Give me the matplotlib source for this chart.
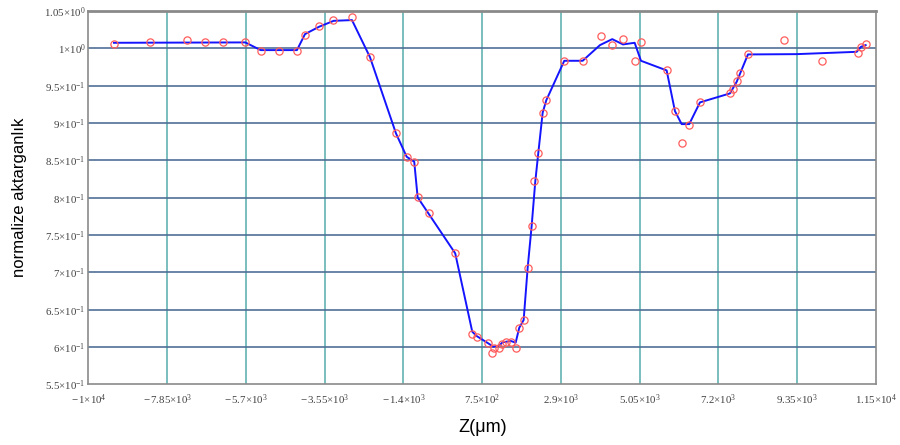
import numpy as np
import matplotlib
matplotlib.use('Agg')
import matplotlib.pyplot as plt

# Datos medidos (círculos)
z_med = [-9304, -8313, -7319, -6819, -6320, -5719, -5299, -4799, -4308, -4089,
         -3707, -3311, -2806, -2323, -1605, -1313, -1106, -1013, -704, 13,
         478, 598, 898, 1024, 1079, 1207, 1281, 1398, 1535, 1663,
         1761, 1881, 1991, 2100, 2171, 2280, 2417, 2498, 2990, 3492,
         3984, 4300, 4593, 4912, 5084, 5785, 6012, 6195, 6402, 6695,
         7514, 7587, 7697, 7795, 8005, 8996, 10017, 11016, 11090, 11218]
t_med = [1.0054, 1.0081, 1.0112, 1.0081, 1.0081, 1.0081, 0.9965, 0.9965, 0.9965, 1.0183,
         1.0295, 1.0380, 1.0416, 0.9884, 0.8863, 0.8550, 0.8483, 0.8006, 0.7792, 0.7256,
         0.6176, 0.6132, 0.6056, 0.5918, 0.5989, 0.5989, 0.6042, 0.6069, 0.6069, 0.5985,
         0.6260, 0.6363, 0.7064, 0.7626, 0.8220, 0.8595, 0.9139, 0.9305, 0.9835, 0.9835,
         1.0165, 1.0045, 1.0129, 0.9835, 1.0081, 0.9706, 0.9161, 0.8729, 0.8970, 0.9278,
         0.9406, 0.9452, 0.9567, 0.9670, 0.9920, 1.0108, 0.9831, 0.9942, 1.0022, 1.0054]

# Curva suavizada (línea azul)
z_fit = [-9304, -5719, -5299, -4308, -4089, -3707, -3306, -2806, -2315, -1605,
         -1313, -1106, -1013, 13, 478, 598, 898, 1051, 1207, 1308,
         1535, 1663, 1761, 1881, 1991, 2100, 2198, 2280, 2400, 2498,
         2990, 3492, 3965, 4300, 4593, 4912, 5084, 5785, 6012, 6195,
         6402, 6695, 7514, 7697, 8005, 9335, 10973, 11090, 11218]
t_fit = [1.0076, 1.0081, 0.9978, 0.9978, 1.0192, 1.0290, 1.0370, 1.0380, 0.9884, 0.8863,
         0.8550, 0.8483, 0.8006, 0.7256, 0.6207, 0.6149, 0.6056, 0.6006, 0.6020, 0.6065,
         0.6082, 0.6060, 0.6260, 0.6363, 0.7064, 0.7626, 0.8215, 0.8595, 0.9139, 0.9305,
         0.9835, 0.9835, 1.0045, 1.0125, 1.0054, 1.0076, 0.9835, 0.9706, 0.9161, 0.8987,
         0.8987, 0.9278, 0.9398, 0.9553, 0.9920, 0.9924, 0.9955, 1.0022, 1.0045]

xticks = [-10000, -7850, -5700, -3550, -1400, 750, 2900, 5050, 7200, 9350, 11500]
xlabels = [r'$-\,1{\times}10^{4}$', r'$-\,7.85{\times}10^{3}$', r'$-\,5.7{\times}10^{3}$',
           r'$-\,3.55{\times}10^{3}$', r'$-\,1.4{\times}10^{3}$', r'$7.5{\times}10^{2}$',
           r'$2.9{\times}10^{3}$', r'$5.05{\times}10^{3}$', r'$7.2{\times}10^{3}$',
           r'$9.35{\times}10^{3}$', r'$1.15{\times}10^{4}$']
yticks = [0.55, 0.60, 0.65, 0.70, 0.75, 0.80, 0.85, 0.90, 0.95, 1.00, 1.05]
ylabels = [r'$5.5{\times}10^{-1}$', r'$6{\times}10^{-1}$', r'$6.5{\times}10^{-1}$',
           r'$7{\times}10^{-1}$', r'$7.5{\times}10^{-1}$', r'$8{\times}10^{-1}$',
           r'$8.5{\times}10^{-1}$', r'$9{\times}10^{-1}$', r'$9.5{\times}10^{-1}$',
           r'$1{\times}10^{0}$', r'$1.05{\times}10^{0}$']

plt.rcParams['mathtext.fontset'] = 'custom'
plt.rcParams['mathtext.rm'] = 'Liberation Serif'
plt.rcParams['mathtext.it'] = 'Liberation Serif:italic'
plt.rcParams['mathtext.default'] = 'rm'

fig = plt.figure(figsize=(9, 4.45), dpi=100)
ax = fig.add_axes([0.0983, 0.136, 0.875, 0.839])

# rejilla
for xv in xticks[1:-1]:
    ax.axvline(xv, color='#6fb8b8', linewidth=1.3, zorder=1)
for yv in yticks[1:-1]:
    ax.axhline(yv, color='#4f6f96', linewidth=1.2, zorder=1)

ax.plot(z_fit, t_fit, color='#1414ff', linewidth=1.4, zorder=3)
ax.plot(z_med, t_med, linestyle='none', marker='o', markersize=5.2,
        markerfacecolor='none', markeredgecolor='#ff5c5c', markeredgewidth=0.9, zorder=4)

ax.set_xlim(-10000, 11500)
ax.set_ylim(0.55, 1.05)
ax.set_xticks(xticks)
ax.set_xticklabels(xlabels)
ax.set_yticks(yticks)
ax.set_yticklabels(ylabels)
ax.tick_params(length=0, labelsize=7.8, labelcolor='#404040')
ax.tick_params(axis='x', pad=6)
ax.tick_params(axis='y', pad=2)

for s in ax.spines.values():
    s.set_color('#8a8a8a')
    s.set_linewidth(1.2)
ax.spines['top'].set_linewidth(2)

ax.set_xlabel('Z(\u03bcm)', fontsize=13, family='Liberation Sans')
ax.xaxis.set_label_coords(0.5, -0.093)
ax.set_ylabel('normalize aktarganlık', fontsize=12, family='Liberation Sans')
ax.yaxis.set_label_coords(-0.078, 0.5)

fig.savefig('out.png', dpi=100)
